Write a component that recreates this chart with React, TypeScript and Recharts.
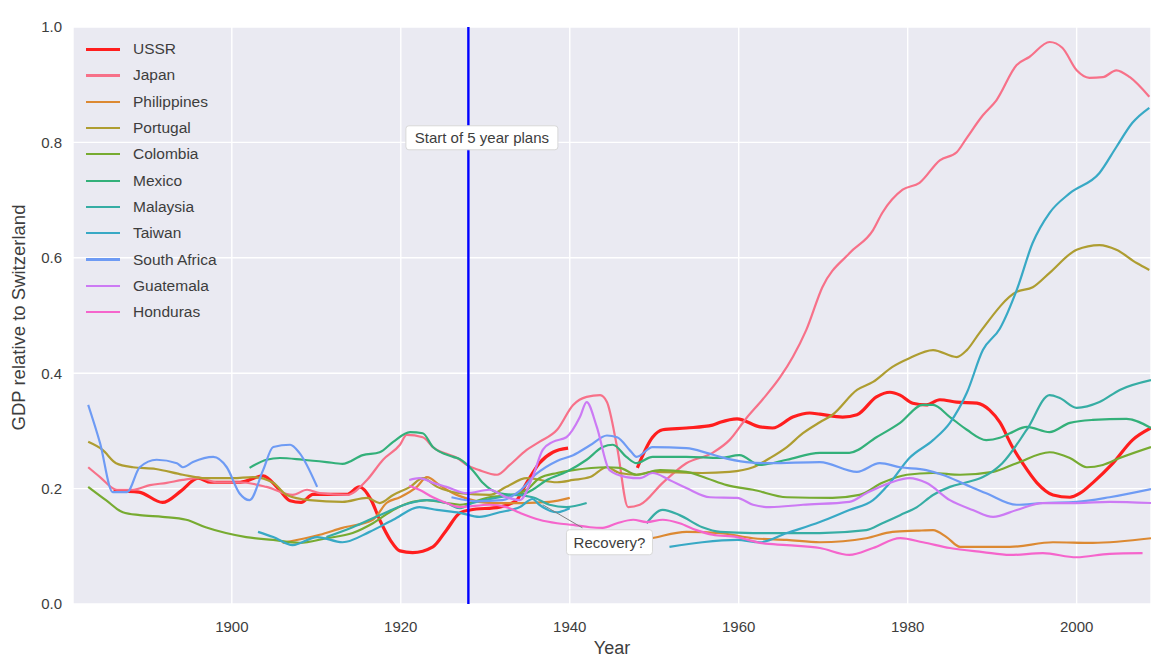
import React from 'react';
import {
  LineChart,
  Line,
  XAxis,
  YAxis,
  CartesianGrid,
  ReferenceLine,
  ReferenceDot,
  Legend,
} from 'recharts';

type Pt = [number, number | null];

const X_TICKS = [1900, 1920, 1940, 1960, 1980, 2000];
const Y_TICKS = [0, 0.2, 0.4, 0.6, 0.8, 1.0];
const X_DOMAIN: [number, number] = [1881.2, 2008.8];

const COUNTRIES = [
  'USSR', 'Japan', 'Philippines', 'Portugal', 'Colombia', 'Mexico',
  'Malaysia', 'Taiwan', 'South Africa', 'Guatemala', 'Honduras',
];
const COLORS = [
  '#ff1e1e', '#f77189', '#dc8932', '#ae9d31', '#77ab31', '#33b07a',
  '#36ada4', '#38a9c5', '#6e9bf4', '#cc7af4', '#f565cc',
];

const USSR: Pt[] = [
  [1886, 0.196], [1889, 0.194], [1891.8, 0.176], [1894, 0.196], [1896, 0.218], [1897.5, 0.211],
  [1901, 0.211], [1903.7, 0.222], [1905.5, 0.2], [1906.9, 0.179], [1908.2, 0.176], [1909.6, 0.19],
  [1913.6, 0.19], [1915.1, 0.203], [1916.5, 0.18], [1917.5, 0.146], [1918.8, 0.11], [1919.9, 0.092],
  [1921.4, 0.089], [1923.8, 0.099], [1925.4, 0.128], [1927, 0.158], [1928.2, 0.163], [1931.7, 0.168],
  [1933.7, 0.18], [1934.9, 0.21], [1936.4, 0.244], [1938, 0.263], [1939.8, 0.27], [1944, null],
  [1948, 0.236], [1949.8, 0.289], [1951, 0.302], [1953.8, 0.305], [1956.9, 0.31], [1957.8, 0.315],
  [1959.8, 0.321], [1962.5, 0.307], [1964, 0.305], [1966.4, 0.324], [1968.4, 0.331], [1969.6, 0.329],
  [1972.3, 0.324], [1974, 0.328], [1976.3, 0.359], [1977.9, 0.367], [1979.1, 0.362], [1980.6, 0.348],
  [1982.2, 0.345], [1983.8, 0.354], [1985.8, 0.35], [1988.2, 0.348], [1989.7, 0.336], [1990.9, 0.315],
  [1992.4, 0.272], [1993.6, 0.244], [1995.3, 0.21], [1997.2, 0.189], [1999.2, 0.185], [2000.4, 0.192],
  [2001.9, 0.21], [2004.3, 0.244], [2006.6, 0.284], [2008.8, 0.305],
];

const JAPAN: Pt[] = [
  [1883, 0.237], [1884.4, 0.22], [1886.4, 0.198], [1888.3, 0.198], [1890.3, 0.206], [1892.3, 0.21],
  [1894.2, 0.215], [1896.2, 0.218], [1898.2, 0.211], [1900.9, 0.211], [1904.1, 0.203], [1907.2, 0.189],
  [1908.9, 0.198], [1910.4, 0.192], [1913.6, 0.189], [1916, 0.215], [1917.9, 0.25], [1919.9, 0.276],
  [1920.7, 0.293], [1922.6, 0.289], [1923.8, 0.272], [1927, 0.25], [1927.8, 0.241], [1929.3, 0.232],
  [1931.4, 0.224], [1932.9, 0.241], [1934.9, 0.267], [1936.4, 0.281], [1938.5, 0.302], [1940.4, 0.345],
  [1942, 0.359], [1943.6, 0.362], [1944.4, 0.35], [1945.6, 0.272], [1946.9, 0.168], [1948.3, 0.172],
  [1951, 0.21], [1953.8, 0.244], [1956.9, 0.262], [1958.9, 0.284], [1960.9, 0.322], [1962.8, 0.354],
  [1964.9, 0.393], [1966.4, 0.428], [1968, 0.475], [1969.9, 0.549], [1973.1, 0.608], [1975.9, 0.648],
  [1977, 0.678], [1979.4, 0.718], [1981.4, 0.73], [1983.8, 0.769], [1985.8, 0.783], [1987, 0.808],
  [1988.9, 0.847], [1990.5, 0.873], [1992.9, 0.934], [1994.4, 0.948], [1996.8, 0.974], [1998.3, 0.964],
  [2000, 0.925], [2001.5, 0.912], [2003.1, 0.913], [2004.7, 0.925], [2006.3, 0.913], [2008.6, 0.879],
];

const PHILIPPINES: Pt[] = [
  [1906, 0.106], [1910.4, 0.12], [1913.1, 0.132], [1916.7, 0.146], [1918.3, 0.175], [1919.9, 0.185],
  [1921.9, 0.203], [1923.1, 0.22], [1924.6, 0.206], [1926.2, 0.192], [1927, 0.187], [1930.9, 0.175],
  [1934.4, 0.175], [1937.6, 0.177], [1940, 0.184], [1943, null],
  [1946, 0.105], [1949.7, 0.114], [1953.8, 0.125], [1957.8, 0.123], [1961.7, 0.114], [1965.7, 0.111],
  [1969.6, 0.107], [1975.1, 0.114], [1978.2, 0.125], [1981.1, 0.127], [1983, 0.128], [1984.6, 0.116],
  [1986.2, 0.099], [1992.1, 0.099], [1997.2, 0.107], [2001.9, 0.106], [2008.8, 0.114],
];

const PORTUGAL: Pt[] = [
  [1883, 0.281], [1884.7, 0.267], [1886.3, 0.244], [1888.3, 0.237], [1891, 0.234], [1894.2, 0.224],
  [1896.9, 0.218], [1900.1, 0.218], [1902.5, 0.22], [1904.9, 0.21], [1906.5, 0.189], [1909.2, 0.18],
  [1913.1, 0.177], [1916, 0.184], [1917.5, 0.175], [1919.1, 0.189], [1921.1, 0.203], [1922.6, 0.218],
  [1924.3, 0.203], [1927, 0.192], [1930.5, 0.189], [1932.5, 0.203], [1934.9, 0.218], [1938.5, 0.211],
  [1940.4, 0.215], [1942.4, 0.22], [1944.4, 0.237], [1945.9, 0.227], [1947.9, 0.224], [1949.8, 0.229],
  [1955.7, 0.227], [1958.9, 0.229], [1961.7, 0.237], [1963.7, 0.253], [1965.7, 0.272], [1967.6, 0.296],
  [1969.6, 0.315], [1971.1, 0.328], [1974, 0.371], [1975.9, 0.385], [1978.2, 0.411], [1980.2, 0.426],
  [1983, 0.44], [1985.8, 0.428], [1987, 0.44], [1988.5, 0.47], [1992.9, 0.541], [1994.8, 0.549],
  [1996.8, 0.574], [2000, 0.614], [2002.7, 0.622], [2004.7, 0.614], [2007.1, 0.591], [2008.6, 0.579],
];

const COLOMBIA: Pt[] = [
  [1883, 0.203], [1885.1, 0.18], [1887.1, 0.159], [1889.1, 0.154], [1891.8, 0.151], [1894.6, 0.146],
  [1896.9, 0.133], [1899.3, 0.123], [1901.7, 0.116], [1904.9, 0.111], [1908, 0.106], [1911.2, 0.114],
  [1914.3, 0.123], [1916.7, 0.14], [1919.1, 0.163], [1921.4, 0.177], [1923.1, 0.18], [1925.4, 0.175],
  [1927, 0.172], [1930.5, 0.185], [1933.3, 0.189], [1934.9, 0.198], [1936.4, 0.218], [1938.5, 0.227],
  [1940.4, 0.232], [1944.4, 0.237], [1945.9, 0.236], [1947.9, 0.224], [1950.7, 0.232], [1953.8, 0.229],
  [1956.2, 0.218], [1958.6, 0.206], [1961.7, 0.198], [1965.7, 0.185], [1971.1, 0.184], [1974.3, 0.189],
  [1977, 0.21], [1979.9, 0.224], [1983, 0.227], [1986.2, 0.224], [1990.1, 0.229], [1992.9, 0.244],
  [1996.8, 0.263], [1999.2, 0.253], [2001.2, 0.237], [2003.1, 0.241], [2005.1, 0.253], [2008.8, 0.272],
];

const MEXICO: Pt[] = [
  [1902.1, 0.236], [1904.1, 0.25], [1905.7, 0.253], [1908.4, 0.25], [1911.2, 0.246], [1913.1, 0.243],
  [1915.5, 0.258], [1917.5, 0.263], [1919.1, 0.281], [1921.1, 0.298], [1922.6, 0.296], [1923.8, 0.272],
  [1926.2, 0.255], [1927, 0.251], [1928.5, 0.232], [1929.7, 0.21], [1931.7, 0.192], [1934.1, 0.189],
  [1935.6, 0.198], [1937.3, 0.215], [1939.6, 0.229], [1942, 0.25], [1943.9, 0.272], [1945.1, 0.276],
  [1946.7, 0.255], [1947.9, 0.244], [1949.8, 0.255], [1953.8, 0.255], [1957.8, 0.253], [1960.1, 0.258],
  [1962.5, 0.241], [1965.7, 0.25], [1969.6, 0.262], [1973.1, 0.262], [1976.3, 0.289], [1979.1, 0.314],
  [1981.8, 0.345], [1983, 0.345], [1985, 0.324], [1987, 0.302], [1989.3, 0.284], [1990.9, 0.288],
  [1992.1, 0.296], [1994.1, 0.307], [1996.8, 0.298], [1999.2, 0.314], [2001.9, 0.319], [2005.9, 0.321],
  [2008.8, 0.305],
];

const MALAYSIA: Pt[] = [
  [1911.2, 0.116], [1914.3, 0.133], [1917.5, 0.154], [1921.1, 0.175], [1923.1, 0.18], [1925.4, 0.175],
  [1927, 0.166], [1928.5, 0.175], [1931.7, 0.185], [1933.3, 0.189], [1935.6, 0.185], [1937.6, 0.172],
  [1939.6, 0.168], [1942, 0.175], [1945, null],
  [1949.1, 0.14], [1951, 0.163], [1953, 0.154], [1955.7, 0.133], [1957.8, 0.125], [1961.7, 0.123],
  [1969.6, 0.123], [1975.1, 0.128], [1977, 0.14], [1979.1, 0.154], [1981.1, 0.168], [1983, 0.189],
  [1985, 0.203], [1987, 0.211], [1988.9, 0.22], [1991.2, 0.244], [1994.1, 0.302], [1996.8, 0.362],
  [1998, 0.357], [2000, 0.34], [2002.7, 0.35], [2005.1, 0.371], [2008.8, 0.388],
];

const TAIWAN: Pt[] = [
  [1903.1, 0.125], [1904.9, 0.116], [1907.2, 0.102], [1910.1, 0.116], [1913.1, 0.107], [1916.3, 0.125],
  [1919.1, 0.146], [1922.2, 0.168], [1924.3, 0.163], [1927, 0.158], [1929.3, 0.151], [1931.7, 0.159],
  [1934.1, 0.168], [1935.6, 0.182], [1936.4, 0.172], [1938.5, 0.159], [1940, 0.166], [1945, null],
  [1951.8, 0.099], [1955.7, 0.107], [1959.8, 0.111], [1962.5, 0.107], [1965.7, 0.123], [1969.6, 0.142],
  [1973.1, 0.163], [1975.9, 0.18], [1977.9, 0.21], [1980.2, 0.253], [1983, 0.284], [1985, 0.314],
  [1987, 0.366], [1988.9, 0.44], [1990.9, 0.477], [1992.9, 0.544], [1994.8, 0.626], [1996.8, 0.678],
  [1999.2, 0.712], [2002.7, 0.747], [2004.7, 0.792], [2006.6, 0.834], [2008.6, 0.86],
];

const SOUTH_AFRICA: Pt[] = [
  [1883, 0.345], [1884.4, 0.279], [1885.9, 0.194], [1887.6, 0.194], [1889.1, 0.237], [1891.1, 0.25],
  [1893.5, 0.244], [1894.2, 0.237], [1895.4, 0.246], [1897.8, 0.255], [1899.4, 0.237], [1900.9, 0.192],
  [1902.1, 0.18], [1903.7, 0.232], [1904.9, 0.272], [1906.9, 0.276], [1908, 0.262], [1910.1, 0.203],
  [1918, null],
  [1926, 0.185], [1929, 0.178], [1932, 0.18], [1934, 0.195], [1936, 0.225], [1938.5, 0.248],
  [1940.4, 0.258], [1942.4, 0.275], [1944.4, 0.292], [1945.6, 0.289], [1947.2, 0.265], [1947.9, 0.255],
  [1949.8, 0.272], [1953.8, 0.27], [1956.2, 0.262], [1957.8, 0.255], [1960.9, 0.246], [1963.7, 0.244],
  [1969.6, 0.246], [1974, 0.229], [1976.7, 0.244], [1979.1, 0.237], [1982.2, 0.232], [1984.1, 0.224],
  [1987, 0.206], [1989.3, 0.192], [1992.9, 0.172], [1996, 0.175], [2000, 0.177], [2003.9, 0.185],
  [2008.8, 0.199],
];

const GUATEMALA: Pt[] = [
  [1921, 0.215], [1922.2, 0.218], [1923.8, 0.21], [1925.4, 0.203], [1927.8, 0.192], [1930.5, 0.198],
  [1932.5, 0.185], [1934.1, 0.18], [1935.6, 0.22], [1936.8, 0.267], [1938, 0.281], [1939.6, 0.289],
  [1941.2, 0.324], [1942, 0.35], [1943.2, 0.307], [1944.7, 0.232], [1946.7, 0.22], [1948.3, 0.218],
  [1949.8, 0.227], [1951.8, 0.215], [1953.8, 0.201], [1956.6, 0.185], [1959.8, 0.184], [1961.7, 0.172],
  [1963.7, 0.168], [1967.6, 0.172], [1973.1, 0.177], [1975.1, 0.192], [1977.9, 0.21], [1980.2, 0.218],
  [1982.2, 0.21], [1985, 0.18], [1987.7, 0.163], [1990.1, 0.151], [1992.9, 0.163], [1996, 0.175],
  [2000, 0.175], [2003.9, 0.177], [2008.8, 0.175],
];

const HONDURAS: Pt[] = [
  [1921, 0.205], [1922.2, 0.198], [1923.8, 0.185], [1925.4, 0.175], [1927, 0.168], [1930.5, 0.172],
  [1932.5, 0.168], [1934.1, 0.158], [1936.4, 0.146], [1938.5, 0.14], [1940.4, 0.137], [1942.4, 0.133],
  [1943.9, 0.132], [1945.6, 0.14], [1947.5, 0.146], [1949.1, 0.142], [1951, 0.146], [1953, 0.14],
  [1955, 0.128], [1956.9, 0.12], [1959.8, 0.116], [1962.5, 0.106], [1965.7, 0.102], [1969.6, 0.097],
  [1973.1, 0.085], [1975.9, 0.097], [1979.1, 0.114], [1981.8, 0.107], [1985, 0.097], [1988.9, 0.09],
  [1992.1, 0.085], [1996, 0.088], [2000, 0.081], [2003.9, 0.087], [2007.8, 0.088],
];

const SERIES: Pt[][] = [
  USSR, JAPAN, PHILIPPINES, PORTUGAL, COLOMBIA, MEXICO,
  MALAYSIA, TAIWAN, SOUTH_AFRICA, GUATEMALA, HONDURAS,
];

const PLAN_YEAR = 1928;
const PLAN_LABEL = { x: 1929.6, y: 0.808, text: 'Start of 5 year plans' };
const RECOVERY_LABEL = { x: 1944.7, y: 0.107, text: 'Recovery?' };
const RECOVERY_ARROW = [
  { x: 1936.8, y: 0.172 },
  { x: 1941.5, y: 0.132 },
];

const FONT = '"Liberation Sans", Arial, sans-serif';
const TEXT_COLOR = '#3d3d3d';

const toRows = (pts: Pt[]) => pts.map(([year, v]) => ({ year, v }));

const boxShape = (text: string, w: number, h: number) => (props: any) => {
  const { cx, cy } = props;
  if (cx == null || cy == null) return <g />;
  return (
    <g>
      <rect
        x={cx - w / 2}
        y={cy - h / 2}
        width={w}
        height={h}
        rx={3}
        ry={3}
        fill="#ffffff"
        stroke="#d8d8d8"
        strokeWidth={1}
      />
      <text
        x={cx}
        y={cy}
        textAnchor="middle"
        dominantBaseline="central"
        fontSize={15}
        fontFamily={FONT}
        fill={TEXT_COLOR}
      >
        {text}
      </text>
    </g>
  );
};

const LegendBox = () => (
  <div style={{ fontFamily: FONT, fontSize: 15.5, color: TEXT_COLOR }}>
    {COUNTRIES.map((name, i) => (
      <div
        key={name}
        style={{ display: 'flex', alignItems: 'center', height: 26.3, whiteSpace: 'nowrap' }}
      >
        <div
          style={{
            width: 34,
            height: i === 0 ? 3 : 2.2,
            background: COLORS[i],
            marginRight: 13,
          }}
        />
        <span>{name}</span>
      </div>
    ))}
  </div>
);

export default function App() {
  return (
    <div style={{ position: 'absolute', left: 0, top: 0, width: 1151, height: 660, background: '#fff' }}>
      <LineChart
        width={1151}
        height={660}
        margin={{ top: 27, right: 0, bottom: 26, left: 13 }}
      >
        <CartesianGrid fill="#eaeaf2" stroke="#ffffff" strokeWidth={1.4} />
        <XAxis
          type="number"
          dataKey="year"
          domain={X_DOMAIN}
          ticks={X_TICKS}
          allowDataOverflow
          height={30}
          tickLine={false}
          axisLine={false}
          tickSize={0}
          tickMargin={17}
          tick={{ fill: TEXT_COLOR, fontSize: 15, fontFamily: FONT }}
          label={(p: any) => {
            const vb = p?.viewBox ?? { x: 73, y: 604, width: 1078, height: 30 };
            return (
              <text
                x={vb.x + vb.width / 2}
                y={vb.y + 50}
                textAnchor="middle"
                fontSize={18}
                fontFamily={FONT}
                fill={TEXT_COLOR}
              >
                Year
              </text>
            );
          }}
        />
        <YAxis
          type="number"
          domain={[0, 1]}
          ticks={Y_TICKS}
          width={60}
          tickLine={false}
          axisLine={false}
          tickSize={0}
          tickMargin={11}
          tickFormatter={(v: number) => v.toFixed(1)}
          tick={{ fill: TEXT_COLOR, fontSize: 15, fontFamily: FONT }}
          label={(p: any) => {
            const vb = p?.viewBox ?? { x: 13, y: 27, width: 60, height: 577 };
            const x = vb.x + 5.5;
            const y = vb.y + vb.height / 2 + 2;
            return (
              <text
                x={x}
                y={y}
                transform={`rotate(-90 ${x} ${y})`}
                textAnchor="middle"
                dominantBaseline="central"
                fontSize={18.5}
                fontFamily={FONT}
                fill={TEXT_COLOR}
              >
                GDP relative to Switzerland
              </text>
            );
          }}
        />
        {SERIES.map((pts, i) => (
          <Line
            key={COUNTRIES[i]}
            data={toRows(pts)}
            dataKey="v"
            name={COUNTRIES[i]}
            type="monotone"
            stroke={COLORS[i]}
            strokeWidth={i === 0 ? 3.2 : 2.2}
            dot={false}
            activeDot={false}
            isAnimationActive={false}
            connectNulls={false}
          />
        ))}
        <ReferenceLine x={PLAN_YEAR} stroke="#0000ff" strokeWidth={2.4} />
        <ReferenceLine segment={RECOVERY_ARROW} stroke="#808080" strokeWidth={1} />
        <ReferenceDot
          x={PLAN_LABEL.x}
          y={PLAN_LABEL.y}
          r={0}
          shape={boxShape(PLAN_LABEL.text, 152, 24)}
        />
        <ReferenceDot
          x={RECOVERY_LABEL.x}
          y={RECOVERY_LABEL.y}
          r={0}
          shape={boxShape(RECOVERY_LABEL.text, 86, 25)}
        />
        <Legend
          layout="vertical"
          align="center"
          verticalAlign="middle"
          content={() => <LegendBox />}
          wrapperStyle={{ position: 'absolute', left: 86, top: 36, width: 200, height: 'auto', transform: 'none' }}
        />
      </LineChart>
    </div>
  );
}
